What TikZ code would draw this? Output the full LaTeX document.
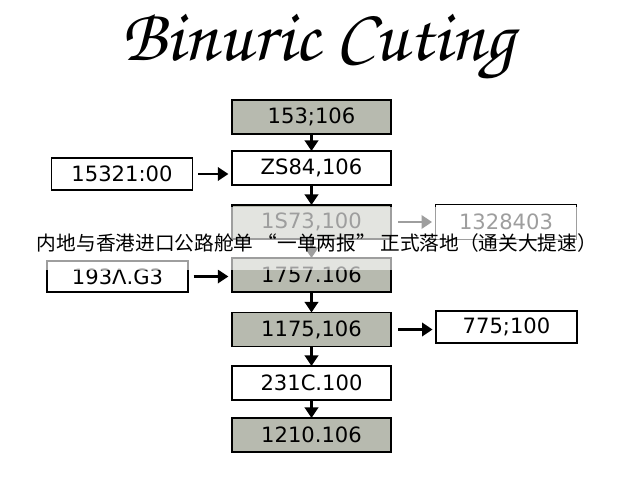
\documentclass[tikz,border=0pt]{standalone}
\usepackage{fontspec}
\setmainfont{DejaVu Sans}
\newfontfamily\cjk{Noto Sans CJK SC}
\newfontfamily\titlefont{texgyrechorus-mediumitalic.otf}
\usetikzlibrary{arrows.meta}
\definecolor{boxgray}{RGB}{183,186,175}
\begin{document}
\begin{tikzpicture}
  [x=0.025cm,y=-0.025cm,
   block/.style={rectangle,draw=black,very thick,align=center,
                 outer sep=0,minimum width=3.98cm,minimum height=0.85cm,
                 font=\fontsize{15}{15}\selectfont},
   shaded/.style={block,fill=boxgray},
   plain/.style={block,fill=white},
   side/.style={rectangle,draw=black,very thick,fill=white,align=center,
                outer sep=0,minimum width=3.52cm,minimum height=0.8cm,
                font=\fontsize{15}{15}\selectfont},
   flow/.style={line width=1.8pt,-{Triangle[width=9.5pt,length=7.5pt]}},
   feed/.style={flow,shorten <=4pt,shorten >=2.5pt}]
  \useasboundingbox (0,0) rectangle (640,480);
  \node[font=\titlefont\fontsize{53}{53}\selectfont] (title) at (318,47)
    {Binuric Cuting};
  % main column
  \node[shaded] (box1) at (311.5,117) {153;106};
  \node[plain] (box2) at (311.5,168) {ZS84,106};
  \node[shaded] (box3) at (311.5,222) {1S73,100};
  \node[shaded] (box4) at (311.5,275) {1757.106};
  \node[shaded] (box5) at (311.5,329.5) {1175,106};
  \node[plain] (box6) at (311.5,383) {231C.100};
  \node[shaded] (box7) at (311.5,435) {1210.106};
  % side boxes
  \node[side] (in1) at (122,174) {15321:00};
  \node[side,minimum height=0.87cm] (out1) at (506,222) {1328403};
  \node[side,minimum height=0.78cm] (in2) at (117.5,276.5) {193Λ.G3};
  \node[side] (out2) at (506.5,327) {775;100};
  \draw[flow] (box1) to (box2);
  \draw[flow] (box2) to (box3);
  \draw[flow] (box3) to (box4);
  \draw[flow] (box4) to (box5);
  \draw[flow] (box5) to (box6);
  \draw[flow] (box6) to (box7);
  \draw[feed] (in1) to (in1 -| box2.west);
  \draw[feed] (in2) to (in2 -| box4.west);
  \draw[feed,shorten <=5pt] (box3) to (box3 -| out1.west);
  \draw[feed,shorten <=5pt] (box5) to (box5 -| out2.west);
  % caption band
  \fill[white,opacity=0.62] (0,207) rectangle (640,270);
  \node[font=\cjk\fontsize{14}{14}\selectfont] (caption) at (317,243)
    {内地与香港进口公路舱单 “一单两报” 正式落地（通关大提速）};
\end{tikzpicture}
\end{document}
